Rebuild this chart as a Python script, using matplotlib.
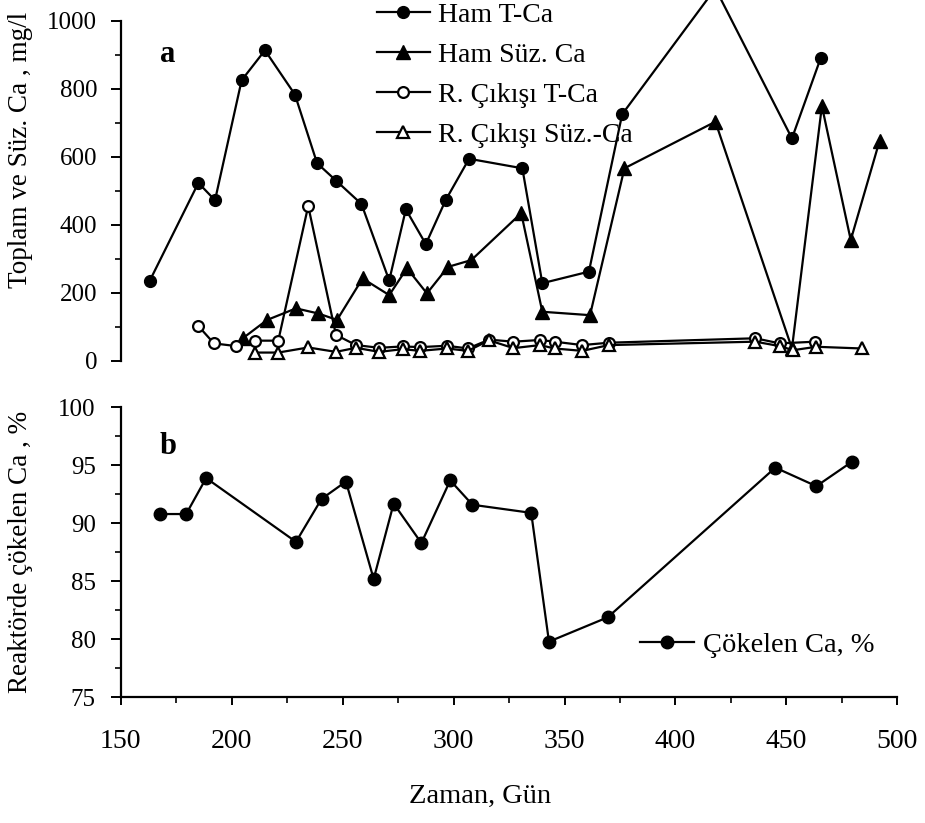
import matplotlib
matplotlib.use("Agg")
import matplotlib.pyplot as plt
from matplotlib.ticker import MultipleLocator

plt.rcParams['font.family'] = ['Liberation Serif', 'DejaVu Serif']

# top panel: Ca concentrations, mg/l
ham_t_gun = [163, 185, 192.5, 204.5, 215, 228.5, 238.5, 247, 258.5, 271, 278.5,
             287.5, 296.5, 307, 331, 340, 361, 376, 418, 452.5, 465.5]
ham_t_ca = [234, 523, 472, 825, 913, 783, 581, 530, 461, 236, 445,
            343, 473, 594, 566, 228, 262, 725, 1095, 654, 891]

ham_suz_gun = [205, 216, 229, 239, 247.5, 259, 271, 279, 288, 297.5, 308,
               330.5, 340, 361.5, 377, 418, 452.5, 466, 479, 492]
ham_suz_ca = [66, 120, 154, 139, 120, 242, 193, 272, 198, 276, 296,
              434, 144, 134, 566, 703, 36, 749, 355, 647]

cikis_t_gun = [185, 192, 202, 210.5, 221, 234.5, 247, 256, 266.5, 277, 285,
               297, 306.5, 316, 327, 339, 345.5, 358, 370, 436, 447, 463]
cikis_t_ca = [102, 51, 43, 59, 59, 455, 76, 46, 38, 42, 40,
              44, 36, 62, 56, 61, 56, 46, 53, 66, 51, 56]

cikis_suz_gun = [210.5, 221, 234.5, 247, 256, 266.5, 277, 285, 297, 306.5, 316,
                 327, 339, 345.5, 358, 370, 436, 447, 453, 463.5, 484]
cikis_suz_ca = [24, 24, 39, 26, 38, 26, 34, 29, 36, 29, 60,
                37, 46, 36, 29, 46, 56, 43, 31, 41, 36]

# bottom panel: precipitated Ca, %
cokelen_gun = [167.5, 179.5, 188.5, 229, 240.5, 251.5, 264, 273, 285.5, 298.5,
               308.5, 335, 343, 369.5, 445, 463.5, 479.5]
cokelen_ca = [90.8, 90.8, 93.9, 88.4, 92.1, 93.6, 85.2, 91.7, 88.3, 93.7,
              91.6, 90.9, 79.8, 81.9, 94.8, 93.2, 95.3]

fig = plt.figure(figsize=(9.25, 8.23), dpi=100)
ax1 = fig.add_axes([0.1305, 0.5617, 0.8396, 0.4131])
ax2 = fig.add_axes([0.1305, 0.1527, 0.8396, 0.3524])

lw = 1.6
ax1.plot(ham_t_gun, ham_t_ca, '-o', color='black', lw=lw, ms=8.5,
         label='Ham T-Ca', clip_on=False)
ax1.plot(ham_suz_gun, ham_suz_ca, '-^', color='black', lw=lw, ms=9.5,
         label='Ham Süz. Ca', clip_on=False)
ax1.plot(cikis_t_gun, cikis_t_ca, '-o', color='black', lw=lw, ms=7.8,
         mfc='white', mew=1.6, label='R. Çıkışı T-Ca', clip_on=False)
ax1.plot(cikis_suz_gun, cikis_suz_ca, '-^', color='black', lw=lw, ms=8.5,
         mfc='white', mew=1.6, label='R. Çıkışı Süz.-Ca', clip_on=False)

ax1.set_xlim(150, 500)
ax1.set_ylim(0, 1000)
for s in ['top', 'right', 'bottom']:
    ax1.spines[s].set_visible(False)
ax1.spines['left'].set_linewidth(1.6)
ax1.set_xticks([])
ax1.yaxis.set_major_locator(MultipleLocator(200))
ax1.yaxis.set_minor_locator(MultipleLocator(100))
ax1.tick_params(axis='y', which='major', direction='out', length=7, width=1.4,
                labelsize=18, pad=10)
ax1.tick_params(axis='y', which='minor', direction='out', length=4.5, width=1.2)
ax1.set_ylabel('Toplam ve Süz. Ca , mg/l', fontsize=19.5)
ax1.yaxis.set_label_coords(-0.113, 0.62)
ax1.text(0.061, 0.90, 'a', transform=ax1.transAxes, fontsize=22,
         fontweight='bold', ha='center', va='center')

ax1.legend(loc='upper left', bbox_to_anchor=(377 / 925, 0.997),
           bbox_transform=fig.transFigure, frameon=False, fontsize=20,
           handlelength=1.9, handletextpad=0.3, labelspacing=0.52,
           borderpad=0, borderaxespad=0)

ax2.plot(cokelen_gun, cokelen_ca, '-o', color='black', lw=lw, ms=9,
         label='Çökelen Ca, %', clip_on=False)
ax2.set_xlim(150, 500)
ax2.set_ylim(75, 100)
for s in ['top', 'right']:
    ax2.spines[s].set_visible(False)
ax2.spines['left'].set_linewidth(1.6)
ax2.spines['bottom'].set_linewidth(1.6)
ax2.xaxis.set_major_locator(MultipleLocator(50))
ax2.xaxis.set_minor_locator(MultipleLocator(25))
ax2.yaxis.set_major_locator(MultipleLocator(5))
ax2.yaxis.set_minor_locator(MultipleLocator(2.5))
ax2.tick_params(axis='y', which='major', direction='out', length=7, width=1.4,
                labelsize=18, pad=11)
ax2.tick_params(axis='y', which='minor', direction='out', length=4.5, width=1.2)
ax2.tick_params(axis='x', which='major', direction='out', length=6, width=1.4,
                labelsize=20, pad=17)
ax2.tick_params(axis='x', which='minor', direction='out', length=4.5, width=1.2)
ax2.set_ylabel('Reaktörde çökelen Ca , %', fontsize=19.5)
ax2.yaxis.set_label_coords(-0.113, 0.50)
ax2.set_xlabel('Zaman, Gün', fontsize=20.5)
ax2.xaxis.set_label_coords(0.4627, -0.30)
ax2.text(0.061, 0.864, 'b', transform=ax2.transAxes, fontsize=22,
         fontweight='bold', ha='center', va='center')

ax2.legend(loc='center left', bbox_to_anchor=(640 / 925, 1 - 645 / 823),
           bbox_transform=fig.transFigure, frameon=False, fontsize=20.5,
           handlelength=1.9, handletextpad=0.3, borderpad=0, borderaxespad=0)

fig.savefig('out.png', dpi=100)
